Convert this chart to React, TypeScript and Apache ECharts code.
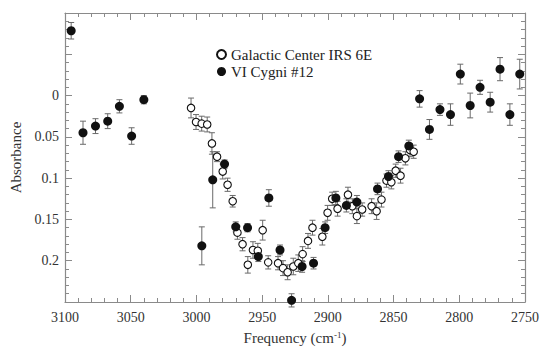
import React, { useEffect, useRef } from "react";
import * as echarts from "echarts";

const openFreq = [3004.1, 3000.3, 2996.0, 2991.8, 2988.2, 2984.3, 2980.0, 2976.3, 2972.4, 2968.8, 2964.9, 2960.9, 2957.0, 2953.3, 2949.6, 2945.4, 2937.9, 2934.1, 2930.6, 2926.3, 2922.5, 2919.2, 2915.1, 2911.7, 2904.2, 2900.2, 2896.7, 2892.6, 2884.7, 2881.4, 2877.9, 2873.9, 2866.7, 2862.9, 2859.2, 2855.4, 2851.7, 2848.4, 2844.7, 2841.0, 2837.5, 2834.7];
const openAbs = [0.015, 0.032, 0.034, 0.035, 0.058, 0.074, 0.092, 0.108, 0.128, 0.166, 0.180, 0.205, 0.187, 0.188, 0.163, 0.202, 0.203, 0.209, 0.214, 0.207, 0.203, 0.192, 0.176, 0.160, 0.171, 0.142, 0.125, 0.137, 0.120, 0.134, 0.146, 0.138, 0.134, 0.140, 0.126, 0.103, 0.105, 0.091, 0.097, 0.076, 0.066, 0.068];
const openErr = [0.012, 0.009, 0.009, 0.009, 0.013, 0.006, 0.009, 0.008, 0.007, 0.008, 0.008, 0.010, 0.010, 0.009, 0.012, 0.008, 0.008, 0.009, 0.009, 0.010, 0.010, 0.009, 0.009, 0.009, 0.010, 0.009, 0.008, 0.009, 0.009, 0.009, 0.009, 0.008, 0.009, 0.010, 0.009, 0.008, 0.008, 0.008, 0.009, 0.008, 0.008, 0.008];

const filledFreq = [3095.3, 3086.3, 3076.8, 3067.5, 3058.6, 3049.3, 3040.0, 2995.9, 2987.6, 2978.6, 2970.1, 2961.1, 2952.9, 2944.9, 2936.4, 2927.6, 2919.6, 2910.9, 2902.1, 2893.9, 2885.9, 2877.9, 2862.2, 2853.9, 2846.2, 2838.4, 2830.2, 2822.7, 2814.7, 2806.7, 2799.2, 2791.7, 2784.2, 2776.5, 2769.0, 2761.5, 2754.0];
const filledAbs = [-0.0785, 0.045, 0.037, 0.031, 0.013, 0.049, 0.005, 0.182, 0.102, 0.083, 0.159, 0.160, 0.195, 0.124, 0.187, 0.248, 0.207, 0.203, 0.160, 0.124, 0.133, 0.129, 0.113, 0.098, 0.074, 0.061, 0.004, 0.041, 0.017, 0.023, -0.026, 0.012, -0.010, 0.008, -0.032, 0.023, -0.026];
const filledErr = [0.010, 0.014, 0.009, 0.009, 0.008, 0.010, 0.005, 0.023, 0.034, 0.005, 0.006, 0.005, 0.006, 0.010, 0.006, 0.008, 0.007, 0.007, 0.007, 0.008, 0.008, 0.008, 0.007, 0.007, 0.007, 0.007, 0.010, 0.012, 0.007, 0.013, 0.012, 0.015, 0.0085, 0.012, 0.014, 0.013, 0.018];

const seriesNames = ["Galactic Center IRS 6E", "VI Cygni #12"];
const yTickLabels = ["0", "0.05", "0.1", "0.15", "0.2"];

const FONT = "'Liberation Serif', 'Times New Roman', serif";
const AXIS_COLOR = "#8a8a8a";
const ERR_COLOR = "#6a6a6a";

function errRender(params: any, api: any) {
  const x = api.value(0);
  const y = api.value(1);
  const e = api.value(2);
  const a = api.coord([x, y - e]);
  const b = api.coord([x, y + e]);
  const w = 3;
  const style = { stroke: ERR_COLOR, lineWidth: 1 };
  return {
    type: "group",
    children: [
      { type: "line", shape: { x1: a[0], y1: a[1], x2: b[0], y2: b[1] }, style },
      { type: "line", shape: { x1: a[0] - w, y1: a[1], x2: a[0] + w, y2: a[1] }, style },
      { type: "line", shape: { x1: b[0] - w, y1: b[1], x2: b[0] + w, y2: b[1] }, style },
    ],
  };
}

export default function App() {
  const ref = useRef<HTMLDivElement>(null);
  useEffect(() => {
    document.body.style.margin = "0";
    const chart = echarts.init(ref.current!, null, { renderer: "svg" });
    const openData = openFreq.map((f, i) => [f, openAbs[i]]);
    const filledData = filledFreq.map((f, i) => [f, filledAbs[i]]);
    const openErrData = openFreq.map((f, i) => [f, openAbs[i], openErr[i]]);
    const filledErrData = filledFreq.map((f, i) => [f, filledAbs[i], filledErr[i]]);

    const baseX = {
      type: "value",
      min: 2750,
      max: 3100,
      interval: 50,
      inverse: true,
      axisLine: { show: true, onZero: false, lineStyle: { color: AXIS_COLOR, width: 1.2 } },
      axisTick: { show: true, inside: true, length: 7, lineStyle: { color: AXIS_COLOR } },
      minorTick: { show: true, splitNumber: 5, length: 4, lineStyle: { color: AXIS_COLOR } },
      splitLine: { show: false },
    };
    const baseY = {
      type: "value",
      min: -0.1,
      max: 0.25,
      interval: 0.05,
      inverse: true,
      axisLine: { show: true, onZero: false, lineStyle: { color: AXIS_COLOR, width: 1.2 } },
      axisTick: { show: true, inside: true, length: 7, lineStyle: { color: AXIS_COLOR } },
      minorTick: { show: true, splitNumber: 5, length: 4, lineStyle: { color: AXIS_COLOR } },
      splitLine: { show: false },
    };

    chart.setOption({
      animation: false,
      backgroundColor: "#fff",
      textStyle: { fontFamily: FONT },
      grid: { left: 61, right: 14, top: 13, bottom: 41 },
      legend: {
        data: seriesNames,
        orient: "vertical",
        left: 211,
        top: 42,
        itemWidth: 9,
        itemHeight: 9,
        itemGap: 2,
        textStyle: { fontFamily: FONT, fontSize: 15, lineHeight: 15, color: "#222" },
      },
      xAxis: [
        {
          ...baseX,
          position: "bottom",
          name: "Frequency (cm{sup|-1})",
          nameLocation: "middle",
          nameGap: 28,
          nameTextStyle: {
            fontFamily: FONT,
            fontSize: 15,
            color: "#333",
            rich: { sup: { fontFamily: FONT, fontSize: 9, verticalAlign: "top", lineHeight: 10, color: "#333" } },
          },
          axisLabel: {
            fontFamily: FONT,
            fontSize: 14,
            color: "#333",
            margin: 8,
            formatter: (v: number) => String(v),
          },
        },
        { ...baseX, position: "top", axisLabel: { show: false } },
      ],
      yAxis: [
        {
          ...baseY,
          position: "left",
          name: "Absorbance",
          nameLocation: "middle",
          nameGap: 42,
          nameTextStyle: { fontFamily: FONT, fontSize: 15, color: "#333" },
          axisLabel: {
            fontFamily: FONT,
            fontSize: 14,
            color: "#333",
            margin: 6,
            formatter: (v: number) => {
              const s = String(parseFloat(v.toFixed(2)));
              return yTickLabels.includes(s) ? s : "";
            },
          },
        },
        { ...baseY, position: "right", axisLabel: { show: false } },
      ],
      series: [
        {
          type: "custom",
          renderItem: errRender,
          data: openErrData,
          encode: { x: 0, y: 1 },
          z: 1,
          silent: true,
        },
        {
          type: "custom",
          renderItem: errRender,
          data: filledErrData,
          encode: { x: 0, y: 1 },
          z: 1,
          silent: true,
        },
        {
          name: seriesNames[0],
          type: "scatter",
          data: openData,
          symbol: "circle",
          symbolSize: 7.5,
          itemStyle: { color: "#fff", borderColor: "#111", borderWidth: 1.1, opacity: 1 },
          z: 3,
        },
        {
          name: seriesNames[1],
          type: "scatter",
          data: filledData,
          symbol: "circle",
          symbolSize: 9,
          itemStyle: { color: "#111", opacity: 1 },
          z: 4,
        },
      ],
    });
    return () => chart.dispose();
  }, []);
  return <div ref={ref} style={{ width: 542, height: 350 }} />;
}
